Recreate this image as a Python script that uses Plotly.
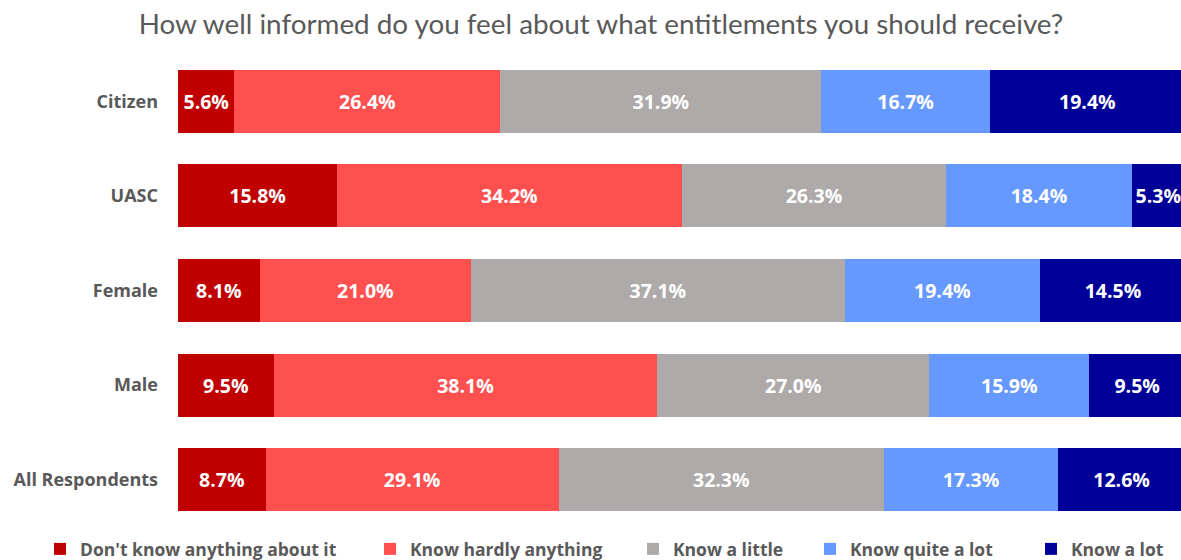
import plotly.graph_objects as go

categories = ["Citizen", "UASC", "Female", "Male", "All Respondents"]
series_names = ["Don't know anything about it", "Know hardly anything",
                "Know a little", "Know quite a lot", "Know a lot"]
dont_know = [5.6, 15.8, 8.1, 9.5, 8.7]
hardly = [26.4, 34.2, 21.0, 38.1, 29.1]
little = [31.9, 26.3, 37.1, 27.0, 32.3]
quite = [16.7, 18.4, 19.4, 15.9, 17.3]
a_lot = [19.4, 5.3, 14.5, 9.5, 12.6]
colors = ["#C00000", "#FF5050", "#AEAAAA", "#6699FF", "#000099"]

FONT = "Open Sans"
TITLE_FONT = "Lato"
legend_text_x = [80, 410, 673, 850, 1071]

fig = go.Figure()
for i, (name, vals, col) in enumerate(zip(series_names, [dont_know, hardly, little, quite, a_lot], colors)):
    fig.add_trace(go.Bar(
        y=categories, x=vals, name=name, orientation="h",
        marker=dict(color=col, line=dict(width=0)),
        texttemplate="%{x:.1f}%", textposition="inside",
        insidetextanchor="middle",
        textfont=dict(color="white", size=19.5, family=FONT, weight="bold"),
        hoverinfo="skip", showlegend=True,
        legend="legend" if i == 0 else f"legend{i+1}",
    ))

legend_common = dict(orientation="h", xref="container", xanchor="left",
                     y=(560-549)/560, yref="container", yanchor="middle",
                     font=dict(size=17.5, color="#595959", family=FONT, weight="bold"),
                     itemclick=False, bgcolor="rgba(0,0,0,0)", visible=True)
legends = {}
for i, tx in enumerate(legend_text_x):
    key = "legend" if i == 0 else f"legend{i+1}"
    legends[key] = dict(legend_common, x=(tx-40)/1181)

fig.update_layout(
    barmode="stack", bargap=0.335,
    width=1181, height=560, showlegend=True,
    margin=dict(l=178, r=0, t=54, b=33),
    paper_bgcolor="white", plot_bgcolor="white",
    font=dict(family=FONT),
    title=dict(text="How well informed do you feel about what entitlements you should receive?",
               x=601/1181, xanchor="center", y=1-24/560, yanchor="middle",
               font=dict(size=27.8, color="#595959", family=TITLE_FONT)),
    uniformtext=dict(minsize=10, mode="show"),
    **legends,
)
fig.update_xaxes(range=[0, 100*(1181-178)/1007], visible=False, fixedrange=True)
fig.update_yaxes(categoryorder="array", categoryarray=categories, autorange="reversed",
                 tickfont=dict(size=18, color="#595959", family=FONT, weight="bold"),
                 ticklabelstandoff=19, showline=False, showgrid=False, fixedrange=True)

fig.write_html("out.html")
